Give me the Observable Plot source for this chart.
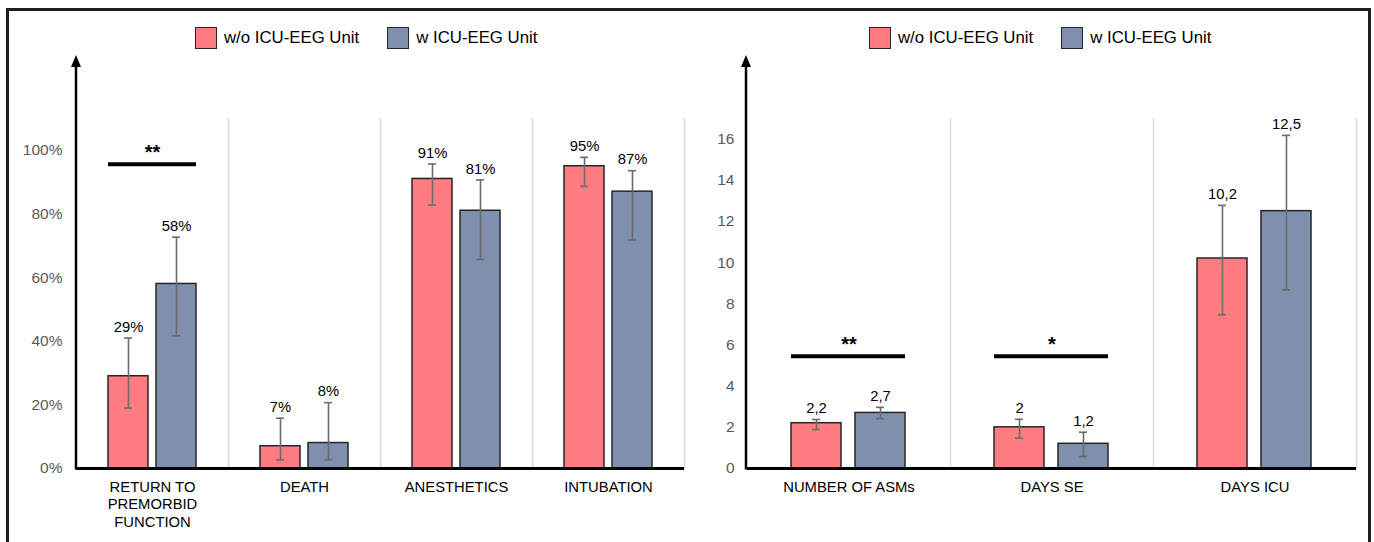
<!DOCTYPE html>
<html>
<head>
<meta charset="utf-8">
<script src="https://cdn.jsdelivr.net/npm/d3@7"></script>
<script src="https://cdn.jsdelivr.net/npm/@observablehq/plot@0.6"></script>
<style>
  html, body { margin: 0; padding: 0; background: #fff; }
  #wrap { position: relative; width: 1374px; height: 542px; overflow: hidden; font-family: "Liberation Sans", Arial, sans-serif; }
  #border { position: absolute; left: 6px; top: 8px; width: 1359px; height: 600px; border: 3px solid #1e1e1e; box-sizing: content-box; }
  .panel { position: absolute; top: 0; }
  .legend { position: absolute; top: 27px; display: flex; align-items: center; font-size: 16.8px; color: #000; white-space: nowrap; }
  .legend .sw { width: 20px; height: 20px; border: 1.5px solid #262626; margin-right: 7px; }
  .legend .item { display: flex; align-items: center; margin-right: 28px; }
</style>
</head>
<body>
<div id="wrap">
  <div id="border"></div>
  <div id="left" class="panel" style="left:0px"></div>
  <div id="right" class="panel" style="left:687px"></div>
  <div id="legLeft" class="legend" style="left:195px"></div>
  <div id="legRight" class="legend" style="left:869px"></div>
</div>
<script>
// ---------- data ----------
const groups = ["w/o ICU-EEG Unit", "w ICU-EEG Unit"];
const groupColors = ["#FF7C80", "#7F8FAE"];

const leftCategories = ["RETURN TO\nPREMORBID\nFUNCTION", "DEATH", "ANESTHETICS", "INTUBATION"];
const leftWithout = [0.29, 0.07, 0.91, 0.95];
const leftWith = [0.58, 0.08, 0.81, 0.87];
const leftWithoutLow = [0.19, 0.027, 0.828, 0.887];
const leftWithoutHigh = [0.41, 0.158, 0.957, 0.978];
const leftWithLow = [0.417, 0.027, 0.657, 0.718];
const leftWithHigh = [0.727, 0.207, 0.907, 0.936];
const leftTicks = [0, 0.2, 0.4, 0.6, 0.8, 1.0];
const leftSigCategories = ["RETURN TO\nPREMORBID\nFUNCTION"];
const leftSigLevels = [0.956];
const leftSigMarks = ["**"];

const rightCategories = ["NUMBER OF ASMs", "DAYS SE", "DAYS ICU"];
const rightWithout = [2.2, 2, 10.2];
const rightWith = [2.7, 1.2, 12.5];
const rightWithoutLow = [1.89, 1.47, 7.47];
const rightWithoutHigh = [2.38, 2.39, 12.78];
const rightWithLow = [2.42, 0.58, 8.68];
const rightWithHigh = [2.97, 1.76, 16.18];
const rightTicks = [0, 2, 4, 6, 8, 10, 12, 14, 16];
const rightSigCategories = ["NUMBER OF ASMs", "DAYS SE"];
const rightSigLevels = [5.45, 5.45];
const rightSigMarks = ["**", "*"];

// ---------- helpers ----------
function buildRows(cats, a, b, aLo, aHi, bLo, bHi, fmt) {
  const rows = [];
  cats.forEach((c, i) => {
    rows.push({cat: c, group: groups[0], value: a[i], lo: aLo[i], hi: aHi[i], label: fmt(a[i])});
    rows.push({cat: c, group: groups[1], value: b[i], lo: bLo[i], hi: bHi[i], label: fmt(b[i])});
  });
  return rows;
}
function buildSig(cats, levels, marks) {
  return cats.map((c, i) => ({cat: c, y: levels[i], mark: marks[i]}));
}

function panel(opts) {
  const {rows, sig, categories, yDomain, yTicks, yFormat, width, marginLeft, marginRight, paddingInner, paddingOuter, capInset, tickPadding} = opts;
  const chart = Plot.plot({
    width, height: 542,
    marginTop: 118, marginBottom: 74, marginLeft, marginRight,
    style: {fontFamily: "'Liberation Sans', Arial, sans-serif", background: "transparent", overflow: "visible"},
    fx: {domain: categories, padding: 0, label: null},
    x: {domain: groups, paddingInner, paddingOuter, axis: null},
    y: {domain: yDomain, label: null},
    color: {domain: groups, range: groupColors},
    marks: [
      Plot.frame({anchor: "right", stroke: "#d9d9d9", strokeWidth: 1.5}),
      Plot.axisY({ticks: yTicks, tickFormat: yFormat, tickSize: 0, tickPadding, fontSize: 15.5, color: "#595959", label: null}),
      Plot.axisFx({anchor: "bottom", tickSize: 0, tickPadding: 11, fontSize: 14.8, lineHeight: 1.18, color: "#000", label: null}),
      Plot.barY(rows, {fx: "cat", x: "group", y: "value", fill: "group", stroke: "#262626", strokeWidth: 1.5}),
      Plot.ruleX(rows, {fx: "cat", x: "group", y1: "lo", y2: "hi", stroke: "#6b6b6b", strokeWidth: 1.6}),
      Plot.tickY(rows, {fx: "cat", x: "group", y: "lo", stroke: "#6b6b6b", strokeWidth: 1.6, insetLeft: capInset, insetRight: capInset}),
      Plot.tickY(rows, {fx: "cat", x: "group", y: "hi", stroke: "#6b6b6b", strokeWidth: 1.6, insetLeft: capInset, insetRight: capInset}),
      Plot.text(rows, {fx: "cat", x: "group", y: "hi", text: "label", dy: -11, fontSize: 14.8, fill: "#000"}),
      Plot.ruleY([0], {stroke: "#000", strokeWidth: 3}),
      Plot.ruleY(sig, {fx: "cat", y: "y", x1: () => groups[0], x2: () => groups[1], stroke: "#000", strokeWidth: 4}),
      Plot.text(sig, {fx: "cat", y: "y", text: "mark", dy: -12, fontSize: 20, fontWeight: "bold", fill: "#000"})
    ]
  });
  // y axis line with arrow head, placed via the chart's own scales
  const y = chart.scale("y");
  const fx = chart.scale("fx");
  const x0 = fx.range[0];
  const yBase = y.apply(0);
  const yTop = y.apply(yDomain[1]) - 63;
  const svg = d3.select(chart);
  svg.append("line").attr("x1", x0).attr("x2", x0).attr("y1", yBase + 1.5).attr("y2", yTop + 10)
    .attr("stroke", "#000").attr("stroke-width", 2.5);
  svg.append("path").attr("d", `M${x0},${yTop} L${x0 - 5},${yTop + 12} L${x0 + 5},${yTop + 12} Z`).attr("fill", "#000");
  return chart;
}

function legend(el) {
  groups.forEach((g, i) => {
    const item = document.createElement("div");
    item.className = "item";
    const sw = document.createElement("div");
    sw.className = "sw";
    sw.style.background = groupColors[i];
    const t = document.createElement("span");
    t.textContent = g;
    item.appendChild(sw); item.appendChild(t);
    el.appendChild(item);
  });
}

const pct = d3.format(".0%");
const comma = v => String(v).replace(".", ",");

document.getElementById("left").appendChild(panel({
  rows: buildRows(leftCategories, leftWithout, leftWith, leftWithoutLow, leftWithoutHigh, leftWithLow, leftWithHigh, pct),
  sig: buildSig(leftSigCategories, leftSigLevels, leftSigMarks),
  categories: leftCategories,
  yDomain: [0, 1.1], yTicks: leftTicks, yFormat: pct,
  width: 687, marginLeft: 76, marginRight: 3,
  paddingInner: 1 / 6, paddingOuter: 2 / 3, capInset: 16, tickPadding: 14
}));

document.getElementById("right").appendChild(panel({
  rows: buildRows(rightCategories, rightWithout, rightWith, rightWithoutLow, rightWithoutHigh, rightWithLow, rightWithHigh, comma),
  sig: buildSig(rightSigCategories, rightSigLevels, rightSigMarks),
  categories: rightCategories,
  yDomain: [0, 17], yTicks: rightTicks, yFormat: d => String(d),
  width: 687, marginLeft: 59, marginRight: 17,
  paddingInner: 0.215, paddingOuter: 0.674, capInset: 21, tickPadding: 13
}));

legend(document.getElementById("legLeft"));
legend(document.getElementById("legRight"));
</script>
</body>
</html>
